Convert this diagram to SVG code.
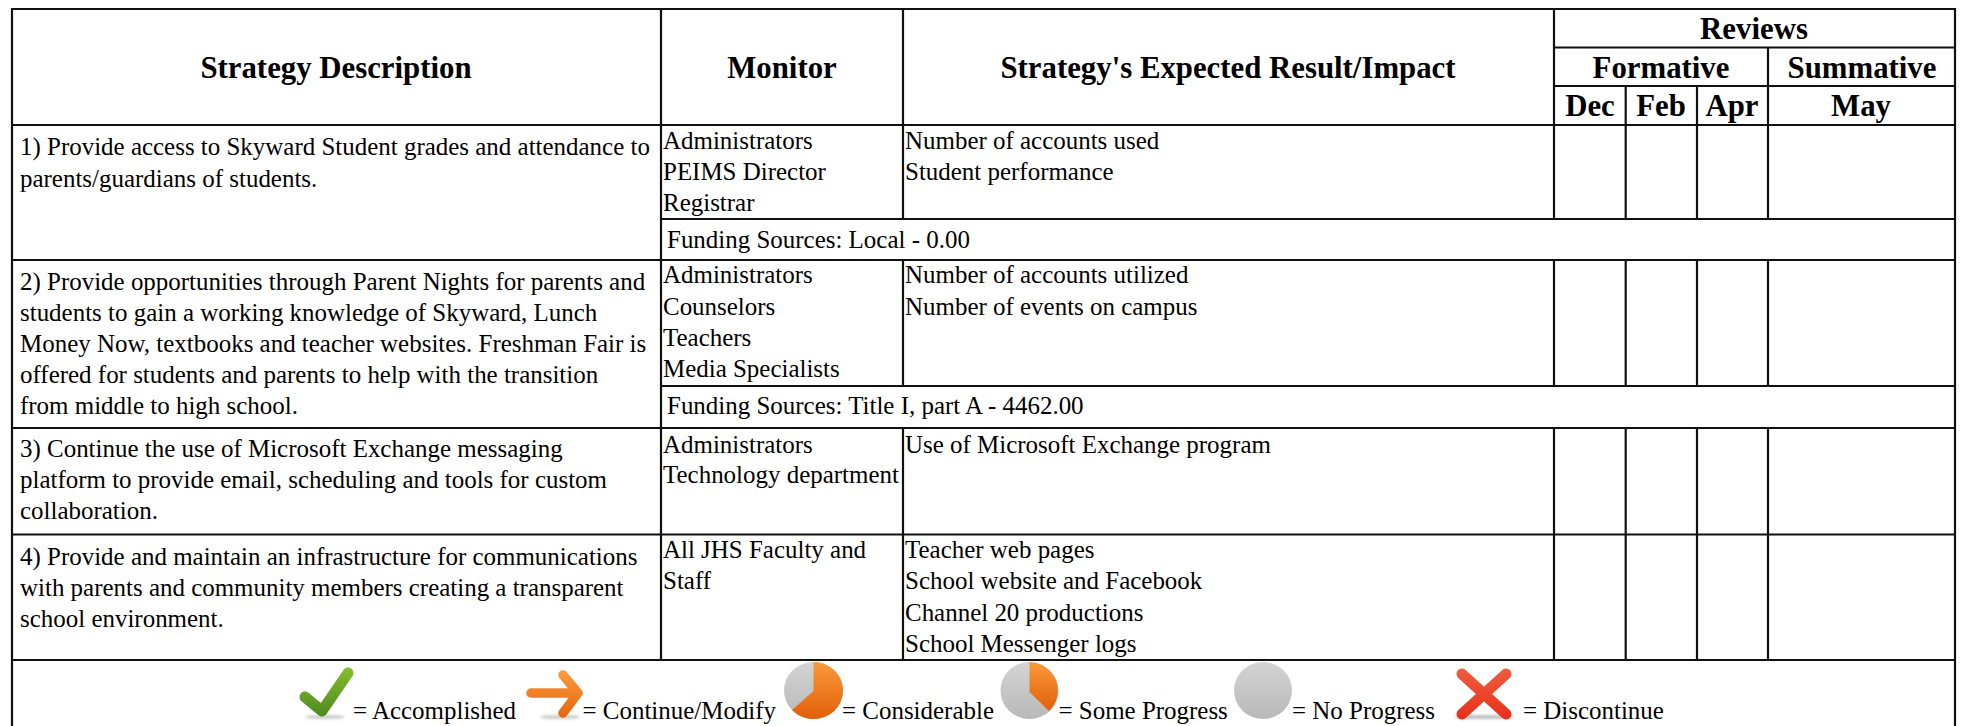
<svg xmlns="http://www.w3.org/2000/svg" width="1961" height="726" viewBox="0 0 1961 726">
<style>
text{font-family:"Liberation Serif","Times New Roman",serif;fill:#000}
.b{font-size:30.8px;font-weight:bold;text-anchor:middle}
.t{font-size:24.96px}
.g line{stroke:#111;stroke-width:2.2}
</style>
<defs>
<linearGradient id="gr" x1="0" y1="0" x2="0" y2="1"><stop offset="0" stop-color="#d4d4d4"/><stop offset="1" stop-color="#b8b8b8"/></linearGradient>
<linearGradient id="or" x1="0" y1="0" x2="0" y2="1"><stop offset="0" stop-color="#f99a3c"/><stop offset="1" stop-color="#e25f08"/></linearGradient>
<linearGradient id="ar" gradientUnits="userSpaceOnUse" x1="0" y1="673" x2="0" y2="716"><stop offset="0" stop-color="#fb9a3c"/><stop offset="1" stop-color="#e8650f"/></linearGradient>
<linearGradient id="ck" gradientUnits="userSpaceOnUse" x1="0" y1="668" x2="0" y2="716"><stop offset="0" stop-color="#86bd2a"/><stop offset="1" stop-color="#4d8a22"/></linearGradient>
<linearGradient id="rd" gradientUnits="userSpaceOnUse" x1="0" y1="668" x2="0" y2="718"><stop offset="0" stop-color="#ef5f3f"/><stop offset="1" stop-color="#e8301c"/></linearGradient>
<filter id="s" x="-20%" y="-20%" width="140%" height="140%"><feGaussianBlur stdDeviation="0.7"/></filter>
<filter id="sh" x="-20%" y="-200%" width="140%" height="500%"><feGaussianBlur stdDeviation="1.5"/></filter>
</defs>
<rect width="1961" height="726" fill="#fff"/>
<g id="grid" class="g">
<line x1="12" y1="9" x2="1955" y2="9"/>
<line x1="12" y1="125" x2="1955" y2="125"/>
<line x1="12" y1="260" x2="1955" y2="260"/>
<line x1="12" y1="428" x2="1955" y2="428"/>
<line x1="12" y1="534.5" x2="1955" y2="534.5"/>
<line x1="12" y1="660" x2="1955" y2="660"/>
<line x1="1554" y1="47.5" x2="1955" y2="47.5"/>
<line x1="1554" y1="86" x2="1955" y2="86"/>
<line x1="661" y1="219" x2="1955" y2="219"/>
<line x1="661" y1="386" x2="1955" y2="386"/>
<line x1="12" y1="8" x2="12" y2="726"/>
<line x1="1955" y1="8" x2="1955" y2="726"/>
<line x1="661" y1="9" x2="661" y2="660"/>
<line x1="903" y1="9" x2="903" y2="219"/><line x1="903" y1="260" x2="903" y2="386"/><line x1="903" y1="428" x2="903" y2="660"/>
<line x1="1554" y1="9" x2="1554" y2="219"/><line x1="1554" y1="260" x2="1554" y2="386"/><line x1="1554" y1="428" x2="1554" y2="660"/>
<line x1="1625.7" y1="86" x2="1625.7" y2="219"/><line x1="1625.7" y1="260" x2="1625.7" y2="386"/><line x1="1625.7" y1="428" x2="1625.7" y2="660"/>
<line x1="1697" y1="86" x2="1697" y2="219"/><line x1="1697" y1="260" x2="1697" y2="386"/><line x1="1697" y1="428" x2="1697" y2="660"/>
<line x1="1768" y1="47.5" x2="1768" y2="219"/><line x1="1768" y1="260" x2="1768" y2="386"/><line x1="1768" y1="428" x2="1768" y2="660"/>
</g>
<g id="header">
<text class="b" x="336" y="78">Strategy Description</text>
<text class="b" x="782" y="78">Monitor</text>
<text class="b" x="1228" y="78">Strategy's Expected Result/Impact</text>
<text class="b" x="1754" y="38.5">Reviews</text>
<text class="b" x="1661" y="78">Formative</text>
<text class="b" x="1862" y="78">Summative</text>
<text class="b" x="1590" y="116">Dec</text>
<text class="b" x="1661" y="116">Feb</text>
<text class="b" x="1732" y="116">Apr</text>
<text class="b" x="1861" y="116">May</text>
</g>
<g id="row1">
<text class="t" x="20" y="155">1) Provide access to Skyward Student grades and attendance to</text>
<text class="t" x="20" y="186.5">parents/guardians of students.</text>
<text class="t" x="663" y="149">Administrators</text>
<text class="t" x="663" y="180">PEIMS Director</text>
<text class="t" x="663" y="210.5">Registrar</text>
<text class="t" x="905" y="149">Number of accounts used</text>
<text class="t" x="905" y="180">Student performance</text>
<text class="t" x="667" y="248">Funding Sources: Local - 0.00</text>
</g>
<g id="row2">
<text class="t" x="20" y="290">2) Provide opportunities through Parent Nights for parents and</text>
<text class="t" x="20" y="321">students to gain a working knowledge of Skyward, Lunch</text>
<text class="t" x="20" y="352">Money Now, textbooks and teacher websites. Freshman Fair is</text>
<text class="t" x="20" y="383">offered for students and parents to help with the transition</text>
<text class="t" x="20" y="414">from middle to high school.</text>
<text class="t" x="663" y="283">Administrators</text>
<text class="t" x="663" y="314.5">Counselors</text>
<text class="t" x="663" y="346">Teachers</text>
<text class="t" x="663" y="376.5">Media Specialists</text>
<text class="t" x="905" y="283">Number of accounts utilized</text>
<text class="t" x="905" y="314.5">Number of events on campus</text>
<text class="t" x="667" y="414">Funding Sources: Title I, part A - 4462.00</text>
</g>
<g id="row3">
<text class="t" x="20" y="456.5">3) Continue the use of Microsoft Exchange messaging</text>
<text class="t" x="20" y="488">platform to provide email, scheduling and tools for custom</text>
<text class="t" x="20" y="519">collaboration.</text>
<text class="t" x="663" y="452.5">Administrators</text>
<text class="t" x="663" y="483">Technology department</text>
<text class="t" x="905" y="452.5">Use of Microsoft Exchange program</text>
</g>
<g id="row4">
<text class="t" x="20" y="565">4) Provide and maintain an infrastructure for communications</text>
<text class="t" x="20" y="596">with parents and community members creating a transparent</text>
<text class="t" x="20" y="627">school environment.</text>
<text class="t" x="663" y="558">All JHS Faculty and</text>
<text class="t" x="663" y="589">Staff</text>
<text class="t" x="905" y="558">Teacher web pages</text>
<text class="t" x="905" y="589">School website and Facebook</text>
<text class="t" x="905" y="620.5">Channel 20 productions</text>
<text class="t" x="905" y="651.5">School Messenger logs</text>
</g>
<g id="legend">
<g id="icon-check" filter="url(#s)">
<ellipse cx="325" cy="717" rx="20" ry="1.6" fill="#bbb" filter="url(#sh)"/>
<polyline points="305,697 322,711 348,673" fill="none" stroke="url(#ck)" stroke-width="11" stroke-linecap="round" stroke-linejoin="round"/>
</g>
<g id="icon-arrow" filter="url(#s)">
<ellipse cx="560" cy="717" rx="20" ry="1.6" fill="#bbb" filter="url(#sh)"/>
<path d="M531 693H576M563 675L578 693L563 713" fill="none" stroke="url(#ar)" stroke-width="9.5" stroke-linecap="round" stroke-linejoin="round"/>
</g>
<g id="icon-considerable" filter="url(#s)">
<ellipse cx="813.5" cy="690.5" rx="29.5" ry="28.5" fill="url(#gr)"/>
<path d="M813.5 662A29.5 28.5 0 1 1 792 710L813.5 691Z" fill="url(#or)"/>
</g>
<g id="icon-some" filter="url(#s)">
<ellipse cx="1029.5" cy="690.5" rx="29" ry="28.5" fill="url(#gr)"/>
<path d="M1029.5 662A29 28.5 0 0 1 1049 711L1029.5 692Z" fill="url(#or)"/>
</g>
<g id="icon-none" filter="url(#s)">
<ellipse cx="1263" cy="690.5" rx="29" ry="28.5" fill="url(#gr)"/>
</g>
<g id="icon-x" filter="url(#s)">
<ellipse cx="1484" cy="717" rx="30" ry="1.6" fill="#aaa" filter="url(#sh)"/>
<path d="M1462 674L1506 714M1506 674L1462 714" fill="none" stroke="url(#rd)" stroke-width="11" stroke-linecap="round"/>
</g>
<text class="t" x="353" y="719">= Accomplished</text>
<text class="t" x="582.5" y="719">= Continue/Modify</text>
<text class="t" x="842" y="719">= Considerable</text>
<text class="t" x="1058.5" y="719">= Some Progress</text>
<text class="t" x="1292" y="719">= No Progress</text>
<text class="t" x="1523" y="719">= Discontinue</text>
</g>
</svg>
